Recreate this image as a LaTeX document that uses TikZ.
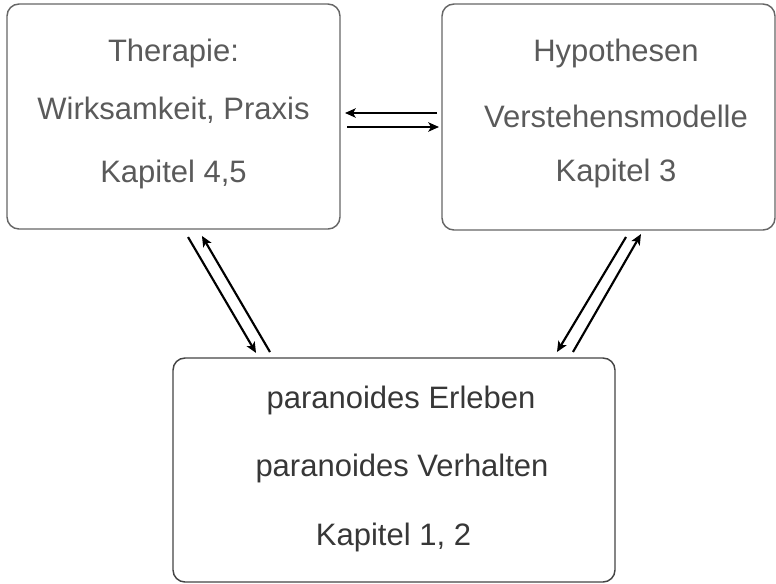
\documentclass[tikz,border=0pt]{standalone}
\usepackage{fontspec}
\setmainfont{Liberation Sans}
\usetikzlibrary{arrows.meta,calc}

\tikzset{every picture/.style={line width=0.75pt}}
\tikzset{
	chapbox/.style={draw={rgb, 255:red, 102; green, 102; blue, 102 }, line width=1.1pt, rounded corners=9pt, inner sep=0pt, outer sep=0pt},
	chaptext/.style={anchor=base, inner sep=0pt, font=\fontsize{23.25}{28}\selectfont, text={rgb, 255:red, 90; green, 90; blue, 90 }},
	darktext/.style={chaptext, text={rgb, 255:red, 55; green, 55; blue, 55 }},
	link/.style={line width=1.6pt, -{Stealth[length=8pt,width=7pt,inset=2pt]}}
}

\begin{document}
\begin{tikzpicture}[x=0.75pt,y=0.75pt,yscale=-1,xscale=1]
	\useasboundingbox (0,0) rectangle (776,583);

	% boxes
	\node (ther) at (173.5,116.5) [chapbox, minimum width=249.75pt, minimum height=168.75pt] {};
	\node (hyp) at (608.5,117) [chapbox, minimum width=249.75pt, minimum height=169.5pt] {};
	\node (par) at (394,470) [chapbox, draw={rgb, 255:red, 68; green, 68; blue, 68 }, minimum width=331.5pt, minimum height=168pt] {};

	% texts
	\node (ther1) at (173.5,61.7) [chaptext] {Therapie:};
	\node (ther2) at (173.5,119.3) [chaptext] {Wirksamkeit, Praxis};
	\node (ther3) at (173.5,182.7) [chaptext] {Kapitel 4,5};
	\node (hyp1) at (616,61.7) [chaptext] {Hypothesen};
	\node (hyp2) at (616,127.3) [chaptext] {Verstehensmodelle};
	\node (hyp3) at (616,181.7) [chaptext] {Kapitel 3};
	\node (par1) at (401,408.3) [darktext] {paranoides Erleben};
	\node (par2) at (402,476.7) [darktext] {paranoides Verhalten};
	\node (par3) at (393.5,545) [darktext] {Kapitel 1, 2};

	% arrows
	\draw [link] ($(hyp.west)+(-5,-4)$) -- ($(ther.east)+(5,-3.5)$);
	\draw [link] ($(ther.east)+(7,10.5)$) -- ($(hyp.west)+(-3,10)$);
	\draw [link, shorten <=7pt, shorten >=4.4pt] ($(ther.south)+(9.8,0)$) -- ($(par.north)+(-135,0)$);
	\draw [link, shorten <=5.2pt, shorten >=6pt] ($(par.north)+(-120.5,0)$) -- ($(ther.south)+(24.4,0)$);
	\draw [link, shorten <=6.1pt, shorten >=5.2pt] ($(hyp.south)+(21.7,0)$) -- ($(par.north)+(159.4,0)$);
	\draw [link, shorten <=5.2pt, shorten >=3.5pt] ($(par.north)+(175.5,0)$) -- ($(hyp.south)+(34.8,0)$);
\end{tikzpicture}
\end{document}
